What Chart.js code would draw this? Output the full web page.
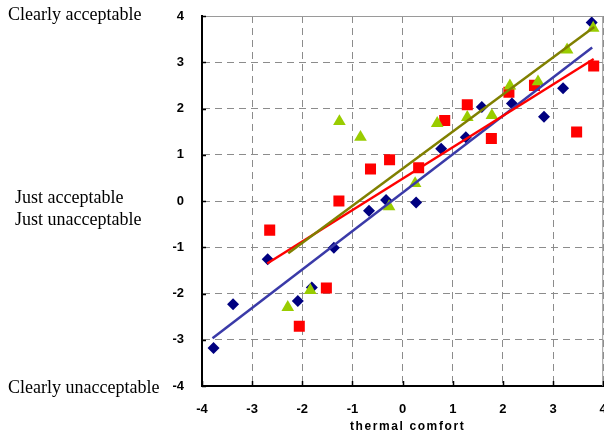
<!DOCTYPE html>
<html>
<head>
<meta charset="utf-8">
<script src="https://cdn.jsdelivr.net/npm/chart.js@4/dist/chart.umd.min.js"></script>
<style>
  html, body { margin: 0; padding: 0; background: #fff; overflow: hidden; }
  #wrap { width: 604px; height: 436px; overflow: hidden; }
</style>
</head>
<body>
<div id="wrap"><canvas id="comfortChart" width="611" height="436"></canvas></div>
<script>
// survey points: x = thermal comfort vote, y = acceptability vote
const diamondX = [-3.77, -3.38, -2.69, -2.09, -1.81, -1.37, -0.67, -0.33, 0.27, 0.77, 1.26, 1.58, 2.18, 2.82, 3.2, 3.77];
const diamondY = [-3.18, -2.23, -1.26, -2.16, -1.87, -1.01, -0.21, 0.02, -0.03, 1.13, 1.38, 2.03, 2.11, 1.82, 2.44, 3.86];

const squareX = [-2.65, -2.06, -1.52, -1.27, -0.64, -0.26, 0.32, 0.84, 1.29, 1.77, 2.12, 2.63, 3.47, 3.81];
const squareY = [-0.63, -2.71, -1.88, 0.0, 0.69, 0.89, 0.72, 1.74, 2.08, 1.35, 2.35, 2.5, 1.49, 2.92];

const triangleX = [-2.29, -1.84, -1.26, -0.84, -0.27, 0.25, 0.69, 1.29, 1.78, 2.14, 2.7, 3.28, 3.8];
const triangleY = [-2.3, -1.93, 1.72, 1.38, -0.12, 0.38, 1.68, 1.81, 1.85, 2.49, 2.58, 3.27, 3.74];

// fitted lines (end points)
const blueFitX = [-3.79, 3.78];
const blueFitY = [-2.97, 3.32];
const redFitX = [-2.7, 3.81];
const redFitY = [-1.35, 3.07];
const oliveFitX = [-2.28, 3.82];
const oliveFitY = [-1.13, 3.76];

const xTicks = [-4, -3, -2, -1, 0, 1, 2, 3, 4];
const yTicks = [-4, -3, -2, -1, 0, 1, 2, 3, 4];
const sideLabels = [
    { text: 'Clearly acceptable', value: 4 },
    { text: 'Just acceptable', value: 0 },
    { text: 'Just unacceptable', value: 0 },
    { text: 'Clearly unacceptable', value: -4 }
];
const xTitle = 'thermal comfort';

function toPoints(xs, ys) {
    return xs.map((x, i) => ({ x: x, y: ys[i] }));
}

const tickFont = { family: '"Liberation Sans", Arial, sans-serif', size: 13, weight: 'bold' };

// extra drawing: frame, inner tick marks, side labels, x title
const decorations = {
    id: 'decorations',
    afterDraw(chart) {
        const ctx = chart.ctx;
        const area = chart.chartArea;
        const xs = chart.scales.x;
        const ys = chart.scales.y;
        ctx.save();

        // top and right frame
        ctx.strokeStyle = '#9a9a9a';
        ctx.lineWidth = 1;
        ctx.beginPath();
        ctx.moveTo(area.left, area.top + 0.5);
        ctx.lineTo(area.right, area.top + 0.5);
        ctx.moveTo(area.right - 0.5, area.top);
        ctx.lineTo(area.right - 0.5, area.bottom);
        ctx.stroke();

        // inner tick marks
        ctx.strokeStyle = '#000';
        ctx.lineWidth = 1.5;
        ctx.beginPath();
        yTicks.forEach(v => {
            const py = Math.round(ys.getPixelForValue(v)) + 0.5;
            ctx.moveTo(area.left, py);
            ctx.lineTo(area.left + 4, py);
        });
        xTicks.forEach(v => {
            const px = Math.round(xs.getPixelForValue(v)) + 0.5;
            ctx.moveTo(px, area.bottom);
            ctx.lineTo(px, area.bottom - 5);
        });
        ctx.stroke();

        // descriptive labels on the left
        ctx.fillStyle = '#000';
        ctx.font = '18px "Liberation Serif", "Times New Roman", serif';
        ctx.textAlign = 'left';
        ctx.textBaseline = 'middle';
        ctx.fillText(sideLabels[0].text, 8, ys.getPixelForValue(sideLabels[0].value) - 1);
        ctx.fillText(sideLabels[1].text, 15, ys.getPixelForValue(sideLabels[1].value) - 3);
        ctx.fillText(sideLabels[2].text, 15, ys.getPixelForValue(sideLabels[2].value) + 19);
        ctx.fillText(sideLabels[3].text, 8, ys.getPixelForValue(sideLabels[3].value) + 2);

        // axis title
        ctx.font = 'bold 12px "Liberation Sans", Arial, sans-serif';
        ctx.textAlign = 'center';
        ctx.letterSpacing = '1.6px';
        ctx.fillText(xTitle, xs.getPixelForValue(0) + 5, area.bottom + 41);
        ctx.restore();
    }
};

const ctx = document.getElementById('comfortChart').getContext('2d');

new Chart(ctx, {
    type: 'scatter',
    data: {
        datasets: [
            {
                type: 'line',
                data: toPoints(oliveFitX, oliveFitY),
                borderColor: '#808000',
                borderWidth: 2.5,
                pointRadius: 0,
                fill: false,
                order: 1
            },
            {
                type: 'line',
                data: toPoints(redFitX, redFitY),
                borderColor: '#ff0000',
                borderWidth: 2.5,
                pointRadius: 0,
                fill: false,
                order: 2
            },
            {
                type: 'line',
                data: toPoints(blueFitX, blueFitY),
                borderColor: '#3a3aa8',
                borderWidth: 2.5,
                pointRadius: 0,
                fill: false,
                order: 3
            },
            {
                data: toPoints(triangleX, triangleY),
                pointStyle: 'triangle',
                pointRadius: 7.3,
                backgroundColor: '#99cc00',
                borderColor: '#99cc00',
                borderWidth: 0,
                order: 4
            },
            {
                data: toPoints(diamondX, diamondY),
                pointStyle: 'rectRot',
                pointRadius: 6,
                backgroundColor: '#000080',
                borderColor: '#000080',
                borderWidth: 0,
                order: 5
            },
            {
                data: toPoints(squareX, squareY),
                pointStyle: 'rect',
                pointRadius: 7.8,
                backgroundColor: '#ff0000',
                borderColor: '#ff0000',
                borderWidth: 0,
                order: 6
            }
        ]
    },
    options: {
        responsive: false,
        animation: false,
        layout: { padding: { top: 16, right: 0, left: 0, bottom: 0 } },
        plugins: {
            legend: { display: false },
            tooltip: { enabled: false },
            title: { display: false }
        },
        scales: {
            x: {
                type: 'linear',
                min: -4,
                max: 4,
                afterBuildTicks: scale => { scale.ticks = xTicks.map(v => ({ value: v })); },
                afterFit: scale => {
                    scale.height = 50;
                    scale.paddingLeft = 0;
                    scale.paddingRight = 0;
                },
                ticks: { color: '#000', font: tickFont, padding: 16, maxRotation: 0 },
                grid: { color: '#8c8c8c', drawTicks: false, lineWidth: 1 },
                border: { display: true, color: '#000', width: 2, dash: [7, 5] }
            },
            y: {
                type: 'linear',
                min: -4,
                max: 4,
                afterBuildTicks: scale => { scale.ticks = yTicks.map(v => ({ value: v })); },
                afterFit: scale => {
                    scale.width = 202;
                    scale.paddingTop = 0;
                    scale.paddingBottom = 0;
                },
                ticks: { color: '#000', font: tickFont, padding: 18 },
                grid: { color: '#8c8c8c', drawTicks: false, lineWidth: 1 },
                border: { display: true, color: '#000', width: 2, dash: [7, 5] }
            }
        }
    },
    plugins: [decorations]
});
</script>
</body>
</html>
